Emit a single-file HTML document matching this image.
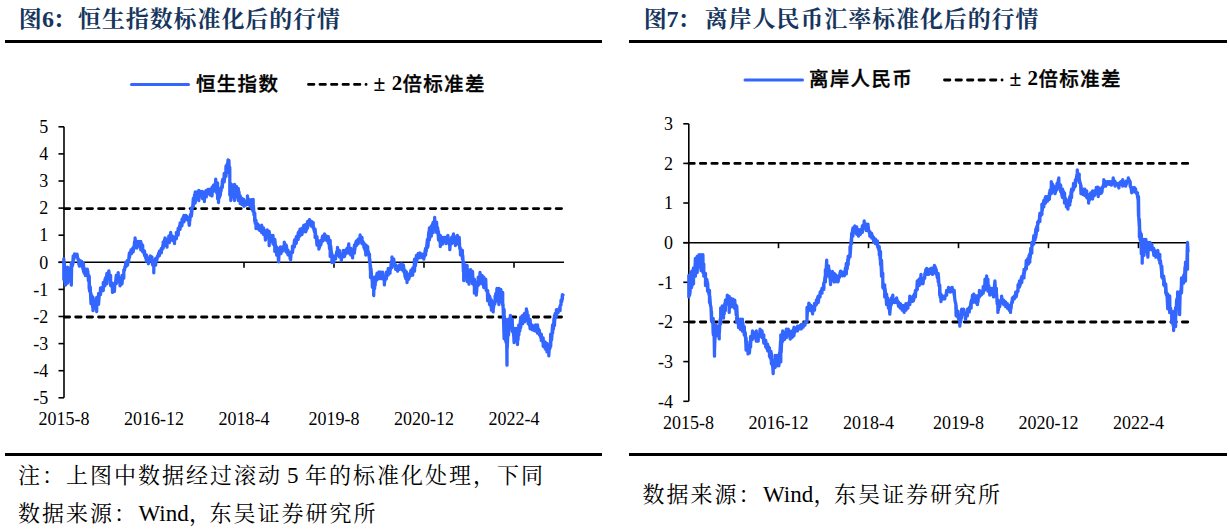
<!DOCTYPE html>
<html><head><meta charset="utf-8">
<style>
html,body{margin:0;padding:0;background:#fff;}
body{width:1229px;height:531px;overflow:hidden;position:relative;}
svg{position:absolute;left:0;top:0;}
.ax{stroke:#000;stroke-width:1.6;fill:none;}
.dash{stroke:#000;stroke-width:2.8;stroke-dasharray:5.4 6.1;stroke-linecap:round;fill:none;}
.ldash{stroke-width:2.8;stroke-dasharray:5.4 6.1;}
.ser{stroke:#3366ff;stroke-width:3.3;fill:none;stroke-linejoin:round;stroke-linecap:round;}
.yl{font-family:"Liberation Serif",serif;font-size:18px;text-anchor:end;fill:#000;}
.xl{font-family:"Liberation Serif",serif;font-size:18px;text-anchor:middle;fill:#000;}
.ttl{font-family:"Noto Serif CJK SC",serif;font-weight:700;font-size:23px;fill:#17365d;}
.tnum{font-family:"Liberation Serif",serif;font-weight:700;}
.lg{font-family:"Liberation Sans","Noto Sans CJK SC",sans-serif;font-weight:500;stroke:#000;stroke-width:0.35px;font-size:19.5px;letter-spacing:1.3px;fill:#000;}
.lgl{stroke:none;letter-spacing:0;font-size:21px;font-family:"Liberation Serif",serif;font-weight:700;}
.pm2{stroke:none;font-family:"Liberation Serif",serif;font-weight:700;font-size:21.5px;letter-spacing:0;}
.nt{font-family:"Liberation Serif","Noto Serif CJK SC",serif;font-size:22px;fill:#000;}
.lat{font-size:23px;}
.tnum{font-size:24px;}
.rule{fill:#000;}
</style></head><body>
<svg width="1229" height="531" viewBox="0 0 1229 531">
<rect class="rule" x="5" y="40" width="597" height="3"/>
<rect class="rule" x="629" y="40" width="598" height="3"/>
<rect class="rule" x="5" y="453" width="597" height="3"/>
<rect class="rule" x="629" y="453" width="598" height="3"/>
<text class="ttl" y="26.5"><tspan x="18.7">图</tspan><tspan class="tnum" x="42">6</tspan></text><text class="ttl" x="52.8" y="27.2">：</text><text class="ttl" y="26.5"><tspan x="78" letter-spacing="0.9">恒生指数标准化后的行情</tspan></text>
<text class="ttl" y="26.5"><tspan x="643.7">图</tspan><tspan class="tnum" x="666.5">7</tspan></text><text class="ttl" x="677.6" y="27.2">：</text><text class="ttl" y="26.5"><tspan x="704.8" letter-spacing="0.9">离岸人民币汇率标准化后的行情</tspan></text>
<line x1="131.5" y1="84.5" x2="188.5" y2="84.5" stroke="#3366ff" stroke-width="3" stroke-linecap="round"/>
<text class="lg" x="196" y="91">恒生指数</text>
<line x1="308.5" y1="84.4" x2="366.1" y2="84.4" class="dash ldash"/>
<text class="lg pm2" transform="translate(373.6 91) scale(1 1.12)">±</text><text class="lg lgl" x="391.8" y="89.8">2</text><text class="lg" x="402.5" y="91">倍标准差</text>
<line x1="745" y1="80" x2="802.5" y2="80" stroke="#3366ff" stroke-width="3" stroke-linecap="round"/>
<text class="lg" x="809" y="86.3">离岸人民币</text>
<line x1="944.5" y1="80" x2="1002.1" y2="80" class="dash ldash"/>
<text class="lg pm2" transform="translate(1009.6 86.3) scale(1 1.12)">±</text><text class="lg lgl" x="1027.5" y="85.1">2</text><text class="lg" x="1038.5" y="86.3">倍标准差</text>
<line x1="64" y1="126.8" x2="64" y2="397.8" class="ax"/>
<line x1="58.5" y1="397.8" x2="64" y2="397.8" class="ax"/>
<text x="48.2" y="404.0" class="yl">-5</text>
<line x1="58.5" y1="370.7" x2="64" y2="370.7" class="ax"/>
<text x="48.2" y="376.9" class="yl">-4</text>
<line x1="58.5" y1="343.6" x2="64" y2="343.6" class="ax"/>
<text x="48.2" y="349.8" class="yl">-3</text>
<line x1="58.5" y1="316.5" x2="64" y2="316.5" class="ax"/>
<text x="48.2" y="322.7" class="yl">-2</text>
<line x1="58.5" y1="289.4" x2="64" y2="289.4" class="ax"/>
<text x="48.2" y="295.6" class="yl">-1</text>
<line x1="58.5" y1="262.3" x2="64" y2="262.3" class="ax"/>
<text x="48.2" y="268.5" class="yl">0</text>
<line x1="58.5" y1="235.2" x2="64" y2="235.2" class="ax"/>
<text x="48.2" y="241.4" class="yl">1</text>
<line x1="58.5" y1="208.1" x2="64" y2="208.1" class="ax"/>
<text x="48.2" y="214.3" class="yl">2</text>
<line x1="58.5" y1="181.0" x2="64" y2="181.0" class="ax"/>
<text x="48.2" y="187.2" class="yl">3</text>
<line x1="58.5" y1="153.9" x2="64" y2="153.9" class="ax"/>
<text x="48.2" y="160.1" class="yl">4</text>
<line x1="58.5" y1="126.8" x2="64" y2="126.8" class="ax"/>
<text x="48.2" y="133.0" class="yl">5</text>
<line x1="58.5" y1="262.3" x2="564" y2="262.3" class="ax"/>
<line x1="154" y1="262.3" x2="154" y2="267.8" class="ax"/>
<line x1="244" y1="262.3" x2="244" y2="267.8" class="ax"/>
<line x1="334" y1="262.3" x2="334" y2="267.8" class="ax"/>
<line x1="424" y1="262.3" x2="424" y2="267.8" class="ax"/>
<line x1="514" y1="262.3" x2="514" y2="267.8" class="ax"/>
<text x="64" y="425" class="xl">2015-8</text>
<text x="154" y="425" class="xl">2016-12</text>
<text x="244" y="425" class="xl">2018-4</text>
<text x="334" y="425" class="xl">2019-8</text>
<text x="424" y="425" class="xl">2020-12</text>
<text x="514" y="425" class="xl">2022-4</text>
<line x1="64.25" y1="208.6" x2="563" y2="208.6" class="dash" style="stroke-dasharray:5.4 6.04"/>
<line x1="64.25" y1="317.0" x2="563" y2="317.0" class="dash" style="stroke-dasharray:5.4 6.04"/>
<path d="M63.8 279.4 L63.8 258.8 L63.8 275.3 L64.4 263.0 L65.0 282.5 L65.6 273.3 L65.6 285.1 L65.6 269.1 L66.2 280.4 L66.8 270.1 L67.4 272.9 L67.5 267.2 L67.5 283.2 L68.0 269.1 L68.6 281.0 L69.2 276.8 L69.4 281.2 L69.4 272.8 L69.8 277.8 L70.4 267.7 L71.0 279.4 L71.3 263.4 L71.3 285.1 L71.6 267.5 L72.2 266.0 L72.8 264.2 L73.2 255.9 L73.2 262.6 L73.4 256.8 L74.0 258.7 L74.6 254.0 L75.0 254.1 L75.0 256.6 L75.2 254.9 L75.8 255.5 L76.4 254.7 L77.0 254.8 L77.0 256.6 L77.0 254.1 L77.6 257.8 L78.2 259.7 L78.8 260.2 L78.8 264.4 L78.8 259.4 L79.4 266.1 L80.0 261.0 L80.6 260.9 L81.2 263.4 L81.7 266.2 L81.7 261.4 L81.8 265.7 L82.4 265.5 L83.0 269.3 L83.5 263.4 L83.5 271.6 L83.6 266.1 L84.2 273.0 L84.8 269.7 L85.4 273.6 L85.4 269.1 L85.4 275.6 L86.0 269.3 L86.6 271.3 L87.2 271.4 L87.3 269.1 L87.3 271.9 L87.8 271.3 L88.4 280.7 L89.0 275.7 L89.2 288.6 L89.2 276.4 L89.6 291.2 L90.2 286.9 L90.8 299.6 L91.0 303.6 L91.0 293.4 L91.4 298.6 L92.0 296.0 L92.6 307.2 L93.0 297.4 L93.0 310.6 L93.2 298.0 L93.8 308.3 L94.4 302.8 L94.8 301.1 L94.8 307.6 L95.0 303.8 L95.6 308.3 L96.2 304.1 L96.7 311.6 L96.7 297.4 L96.8 304.4 L97.4 302.5 L98.0 296.3 L98.6 304.3 L98.6 293.4 L98.6 303.6 L99.2 295.5 L99.8 293.4 L100.4 293.5 L100.5 287.9 L100.5 294.6 L101.0 287.8 L101.6 289.1 L102.2 287.6 L102.8 288.2 L103.3 290.6 L103.3 282.4 L103.4 286.7 L104.0 284.7 L104.6 284.0 L105.0 285.8 L105.0 279.2 L105.2 281.6 L105.8 277.4 L106.4 279.4 L106.9 273.4 L106.9 283.6 L107.0 279.1 L107.6 278.2 L108.2 275.8 L108.8 273.3 L108.8 276.6 L108.8 270.8 L109.4 276.0 L110.0 275.4 L110.6 284.0 L110.6 275.4 L110.6 285.6 L111.2 283.2 L111.8 286.5 L112.4 287.8 L112.5 292.4 L112.5 283.1 L113.0 290.6 L113.6 284.1 L114.2 289.6 L114.4 284.8 L114.4 291.4 L114.8 284.2 L115.4 283.8 L116.0 278.1 L116.3 275.4 L116.3 283.6 L116.6 277.5 L117.2 278.9 L117.8 279.5 L118.2 272.6 L118.2 281.9 L118.4 275.8 L119.0 279.1 L119.6 280.9 L120.0 279.2 L120.0 285.8 L120.2 282.7 L120.8 284.5 L121.4 277.7 L122.0 279.9 L122.0 275.4 L122.0 283.9 L122.6 277.2 L123.2 275.7 L123.8 274.7 L123.8 278.2 L123.8 269.8 L124.4 270.4 L125.0 266.6 L125.6 267.0 L125.7 262.2 L125.7 266.9 L126.2 261.8 L126.8 265.8 L127.4 262.1 L127.6 260.4 L127.6 265.1 L128.0 261.0 L128.6 262.0 L129.2 254.4 L129.5 252.9 L129.5 257.6 L129.8 254.7 L130.4 253.7 L131.0 250.0 L131.4 253.7 L131.4 251.0 L131.6 253.4 L132.2 251.0 L132.8 248.2 L133.2 251.8 L133.2 247.3 L133.4 250.2 L134.0 248.5 L134.6 241.4 L135.1 246.2 L135.1 237.9 L135.2 246.1 L135.8 240.6 L136.4 245.3 L137.0 241.5 L137.0 248.0 L137.0 241.5 L137.6 244.8 L138.2 243.0 L138.8 243.9 L138.9 241.5 L138.9 246.2 L139.4 244.3 L140.0 245.5 L140.6 245.5 L140.8 249.9 L140.8 241.5 L141.2 248.4 L141.8 244.1 L142.4 250.5 L142.7 245.5 L142.7 251.8 L143.0 249.4 L143.6 252.8 L144.2 251.4 L144.5 255.5 L144.5 251.0 L144.8 255.7 L145.4 256.4 L146.0 258.9 L146.4 254.8 L146.4 261.2 L146.6 256.6 L147.2 261.4 L147.8 258.3 L148.3 263.2 L148.3 258.4 L148.4 263.8 L149.0 259.1 L149.6 258.3 L150.2 256.8 L150.2 255.8 L150.2 260.1 L150.8 256.5 L151.4 260.9 L151.9 261.4 L151.9 256.8 L152.0 260.1 L152.6 265.0 L153.2 264.2 L153.8 264.8 L153.8 272.8 L153.8 260.4 L154.4 265.9 L155.0 259.8 L155.6 261.8 L155.6 258.4 L155.6 265.2 L156.2 259.6 L156.8 260.3 L157.4 256.6 L157.5 257.6 L157.5 255.9 L158.0 257.0 L158.6 253.3 L159.2 255.4 L159.4 255.7 L159.4 251.2 L159.8 253.8 L160.4 251.6 L161.0 251.6 L161.3 248.4 L161.3 252.9 L161.6 248.1 L162.2 249.4 L162.8 245.6 L163.2 248.2 L163.2 241.8 L163.4 246.8 L164.0 242.1 L164.6 239.8 L165.1 238.0 L165.1 245.4 L165.2 238.2 L165.8 243.3 L166.4 245.9 L167.0 243.7 L167.0 247.2 L167.0 241.8 L167.6 242.3 L168.2 242.2 L168.8 237.0 L168.8 242.5 L168.8 236.1 L169.4 242.5 L170.0 234.8 L170.6 237.8 L170.7 232.3 L170.7 238.8 L171.2 236.0 L171.8 236.8 L172.4 239.6 L172.6 236.1 L172.6 240.5 L173.0 239.3 L173.6 240.8 L174.2 238.0 L174.5 243.5 L174.5 238.0 L174.8 239.6 L175.4 237.1 L176.0 236.2 L176.4 238.8 L176.4 232.3 L176.6 235.9 L177.2 235.0 L177.8 232.2 L178.2 228.5 L178.2 235.0 L178.4 230.4 L179.0 229.0 L179.6 225.7 L180.1 229.3 L180.1 222.9 L180.2 225.3 L180.8 222.7 L181.4 226.1 L182.0 222.6 L182.0 225.5 L182.0 219.2 L182.6 220.9 L183.2 217.3 L183.8 220.7 L183.9 215.4 L183.9 221.8 L184.4 216.3 L185.0 217.8 L185.6 218.6 L185.8 215.4 L185.8 219.9 L186.2 215.9 L186.8 216.6 L187.4 218.4 L187.7 217.3 L187.7 219.9 L188.0 217.8 L188.6 219.4 L189.2 225.3 L189.5 224.6 L189.5 217.3 L189.8 221.2 L190.4 214.6 L191.0 214.0 L191.4 216.2 L191.4 207.9 L191.6 214.7 L192.2 207.3 L192.8 206.0 L193.3 198.5 L193.3 206.7 L193.4 199.2 L194.0 200.2 L194.6 194.8 L195.2 198.4 L195.2 192.0 L195.2 203.0 L195.8 195.0 L196.4 199.1 L197.0 193.1 L197.1 191.9 L197.1 198.5 L197.6 194.4 L198.2 198.6 L198.8 196.3 L198.8 190.5 L198.8 200.5 L199.4 193.2 L200.0 196.0 L200.6 195.6 L200.6 191.5 L200.6 195.0 L201.2 193.4 L201.8 194.0 L202.4 194.3 L202.5 198.5 L202.5 191.5 L203.0 198.3 L203.6 198.8 L204.2 193.2 L204.4 201.5 L204.4 192.3 L204.8 197.1 L205.4 193.2 L206.0 190.7 L206.3 196.9 L206.3 190.5 L206.6 193.1 L207.2 193.1 L207.8 193.5 L208.2 189.5 L208.2 193.1 L208.4 189.5 L209.0 193.0 L209.6 189.5 L210.0 195.0 L210.0 189.5 L210.2 191.8 L210.8 194.6 L211.4 191.9 L212.0 189.9 L212.0 187.5 L212.0 195.9 L212.6 187.5 L213.2 185.8 L213.8 187.2 L213.8 191.2 L213.8 184.8 L214.4 185.9 L215.0 184.7 L215.6 182.2 L215.7 179.2 L215.7 185.5 L216.2 184.0 L216.8 193.2 L217.4 191.7 L217.6 182.9 L217.6 198.8 L218.0 189.6 L218.5 194.2 L218.5 202.5 L218.6 198.6 L219.2 197.8 L219.8 196.6 L220.4 191.7 L220.4 195.0 L220.4 188.5 L221.0 191.4 L221.6 186.8 L222.2 185.0 L222.3 181.0 L222.3 187.5 L222.8 179.1 L223.4 179.8 L224.0 181.1 L224.2 173.5 L224.2 181.8 L224.6 174.4 L225.2 177.4 L225.8 170.9 L226.0 166.0 L226.0 176.2 L226.4 168.7 L227.0 164.6 L227.6 166.1 L228.0 160.0 L228.0 168.5 L228.2 161.4 L228.8 164.3 L228.9 172.5 L228.9 160.3 L229.4 172.7 L229.8 167.5 L229.8 195.0 L230.0 183.3 L230.6 183.7 L230.8 186.5 L230.8 200.5 L231.2 192.4 L231.8 193.9 L232.4 189.5 L232.7 184.8 L232.7 191.2 L233.0 186.5 L233.6 194.1 L234.2 198.1 L234.5 184.5 L234.5 200.5 L234.8 186.8 L235.4 197.2 L236.0 190.6 L236.4 196.9 L236.4 186.5 L236.6 195.2 L237.2 189.4 L237.8 191.8 L238.3 200.5 L238.3 188.5 L238.4 197.9 L239.0 191.8 L239.6 200.4 L240.2 200.3 L240.2 203.5 L240.2 196.0 L240.8 202.4 L241.4 200.3 L242.0 201.1 L242.0 204.5 L242.0 198.5 L242.6 201.8 L243.2 204.2 L243.8 199.5 L244.0 206.3 L244.0 200.5 L244.4 203.1 L245.0 202.1 L245.6 204.6 L245.6 205.2 L245.6 201.5 L246.2 204.6 L246.8 200.8 L247.4 200.9 L247.5 204.3 L247.5 196.0 L248.0 204.3 L248.6 201.8 L249.2 199.8 L249.4 205.2 L249.4 199.7 L249.8 204.3 L250.4 205.9 L251.0 202.1 L251.3 208.0 L251.3 199.7 L251.6 207.3 L252.2 209.5 L252.8 210.6 L253.2 199.5 L253.2 211.5 L253.4 205.4 L254.0 214.9 L254.6 214.2 L254.7 221.2 L254.7 212.9 L255.2 223.3 L255.8 220.4 L256.0 220.5 L256.0 228.5 L256.4 223.2 L257.0 228.2 L257.6 223.8 L257.9 228.5 L257.9 224.2 L258.2 228.8 L258.8 227.0 L259.4 230.1 L259.8 226.1 L259.8 230.6 L260.0 228.7 L260.6 229.1 L261.2 226.2 L261.7 232.5 L261.7 225.2 L261.8 228.4 L262.4 229.6 L263.0 232.5 L263.5 228.0 L263.5 234.4 L263.6 231.7 L264.2 229.9 L264.8 231.3 L265.4 239.3 L265.4 231.5 L265.4 240.1 L266.0 235.1 L266.6 231.1 L267.2 233.2 L267.3 229.9 L267.3 234.4 L267.8 234.0 L268.4 235.6 L269.0 239.5 L269.2 245.7 L269.2 231.5 L269.6 242.6 L270.2 235.6 L270.8 240.2 L271.0 235.5 L271.0 240.1 L271.4 238.1 L272.0 238.1 L272.6 236.3 L273.0 243.8 L273.0 235.5 L273.2 241.4 L273.8 242.6 L274.4 245.8 L274.8 239.3 L274.8 251.4 L275.0 240.8 L275.6 249.3 L276.2 248.3 L276.7 255.2 L276.7 246.8 L276.8 250.6 L277.4 248.0 L278.0 253.5 L278.6 261.7 L278.6 248.7 L278.6 261.8 L279.2 250.4 L279.8 251.4 L280.4 249.3 L280.5 253.2 L280.5 246.8 L281.0 253.6 L281.6 248.6 L282.2 251.1 L282.4 246.8 L282.4 251.4 L282.8 247.8 L283.4 249.3 L284.0 246.6 L284.3 249.5 L284.3 242.1 L284.6 249.9 L285.2 245.5 L285.8 250.7 L286.1 244.9 L286.1 252.0 L286.4 245.8 L287.0 250.9 L287.6 249.9 L288.0 254.8 L288.0 250.2 L288.2 252.9 L288.8 253.2 L289.4 255.5 L290.0 255.4 L290.0 258.4 L290.0 253.0 L290.6 258.5 L290.6 253.5 L290.6 259.8 L291.2 252.0 L291.8 252.5 L292.4 251.1 L292.5 246.1 L292.5 252.5 L293.0 247.9 L293.6 247.1 L294.2 243.5 L294.4 240.5 L294.4 246.9 L294.8 239.6 L295.4 239.8 L296.0 243.6 L296.3 236.7 L296.3 243.1 L296.6 238.8 L297.2 239.0 L297.8 237.0 L298.2 232.9 L298.2 239.3 L298.4 235.8 L299.0 231.6 L299.6 236.3 L300.0 235.5 L300.0 229.2 L300.2 233.0 L300.8 229.9 L301.4 232.0 L302.0 228.9 L302.0 234.6 L302.0 228.2 L302.6 230.9 L303.2 230.0 L303.8 225.4 L303.8 231.8 L303.8 226.6 L304.4 228.7 L305.0 227.1 L305.6 224.9 L305.7 231.8 L305.7 224.5 L306.2 230.8 L306.8 226.8 L307.4 225.0 L307.6 228.0 L307.6 221.5 L308.0 225.8 L308.6 223.4 L309.2 222.3 L309.5 219.7 L309.5 223.3 L309.8 221.4 L310.4 222.3 L311.0 224.7 L311.4 221.5 L311.4 226.2 L311.6 224.2 L312.2 222.0 L312.8 224.7 L313.2 222.5 L313.2 228.0 L313.4 226.3 L314.0 229.9 L314.6 232.1 L315.1 229.2 L315.1 237.5 L315.2 230.3 L315.8 236.6 L316.4 238.2 L317.0 245.0 L317.0 236.7 L317.0 242.7 L317.6 239.9 L318.2 244.5 L318.8 244.5 L318.9 249.1 L318.9 244.2 L319.4 247.6 L320.0 244.8 L320.6 242.8 L320.8 240.5 L320.8 245.0 L321.2 242.3 L321.8 241.7 L322.4 236.8 L322.7 241.2 L322.7 235.8 L323.0 240.8 L323.6 238.0 L324.2 235.7 L324.5 239.3 L324.5 233.9 L324.8 238.2 L325.4 238.5 L326.0 236.6 L326.4 240.3 L326.4 235.8 L326.6 238.1 L327.2 238.9 L327.8 240.8 L328.3 236.7 L328.3 243.1 L328.4 237.3 L329.0 242.3 L329.6 248.9 L330.2 240.5 L330.2 256.4 L330.2 244.4 L330.8 246.7 L331.4 252.6 L331.9 254.2 L331.9 262.6 L332.0 254.4 L332.6 258.9 L333.2 255.9 L333.8 262.6 L333.8 256.1 L333.8 259.8 L334.4 258.7 L335.0 257.8 L335.6 256.1 L335.6 258.9 L335.6 256.7 L336.2 255.1 L336.8 251.6 L337.4 253.4 L337.5 247.5 L337.5 255.0 L338.0 249.8 L338.6 253.1 L339.2 251.0 L339.4 256.9 L339.4 250.5 L339.8 256.9 L340.4 255.7 L341.0 255.7 L341.3 254.2 L341.3 260.6 L341.6 254.9 L342.2 255.6 L342.8 255.6 L343.2 256.9 L343.2 250.5 L343.4 255.4 L344.0 251.7 L344.6 256.5 L345.0 250.5 L345.0 255.0 L345.2 250.9 L345.8 253.1 L346.4 250.1 L347.0 248.5 L347.0 253.1 L347.0 248.6 L347.6 249.8 L348.2 247.8 L348.8 243.9 L348.8 253.1 L348.8 247.5 L349.4 253.0 L350.0 252.8 L350.6 251.7 L350.7 255.0 L350.7 248.5 L351.2 253.5 L351.8 253.9 L352.4 252.5 L352.6 257.9 L352.6 252.3 L353.0 254.1 L353.6 253.0 L354.2 246.6 L354.5 253.1 L354.5 244.8 L354.8 249.8 L355.4 244.9 L356.0 241.8 L356.4 245.5 L356.4 241.0 L356.6 243.8 L357.2 243.7 L357.8 243.9 L358.2 239.2 L358.2 243.7 L358.4 238.8 L359.0 239.8 L359.6 240.4 L360.1 241.8 L360.1 235.0 L360.2 241.8 L360.8 237.2 L361.4 241.3 L362.0 243.7 L362.0 237.3 L362.0 242.9 L362.6 241.0 L363.2 243.5 L363.8 243.3 L363.9 242.9 L363.9 247.5 L364.4 245.8 L365.0 250.4 L365.6 248.2 L365.8 255.0 L365.8 244.8 L366.2 250.5 L366.8 246.0 L367.4 252.6 L367.7 246.7 L367.7 253.1 L368.0 250.6 L368.6 253.1 L369.2 257.6 L369.5 254.2 L369.5 262.6 L369.8 258.8 L370.4 270.7 L370.5 265.4 L370.5 277.6 L371.0 268.7 L371.6 276.3 L372.2 280.5 L372.4 287.1 L372.4 276.8 L372.8 287.6 L373.4 284.4 L373.7 282.4 L373.7 295.6 L374.0 281.7 L374.6 288.6 L375.2 276.8 L375.2 285.2 L375.2 281.4 L375.8 281.6 L376.4 277.4 L377.0 273.6 L377.1 279.6 L377.1 273.1 L377.6 279.2 L378.2 272.9 L378.8 275.2 L379.0 271.9 L379.0 278.6 L379.4 274.7 L380.0 278.6 L380.6 272.2 L380.6 276.9 L380.6 274.7 L381.2 275.6 L381.8 275.6 L382.4 274.5 L382.5 278.9 L382.5 272.2 L383.0 276.9 L383.6 277.9 L384.2 277.1 L384.4 284.9 L384.4 276.1 L384.8 281.4 L385.4 277.7 L386.0 277.2 L386.3 272.2 L386.3 278.9 L386.6 274.8 L387.2 272.7 L387.8 272.0 L388.2 275.1 L388.2 268.4 L388.4 273.6 L389.0 271.3 L389.6 269.8 L390.0 273.2 L390.0 268.4 L390.2 270.4 L390.8 267.5 L391.4 261.7 L392.0 267.6 L392.0 256.9 L392.0 262.3 L392.6 262.2 L393.2 261.1 L393.8 259.1 L393.8 265.6 L393.8 262.2 L394.4 262.1 L395.0 265.4 L395.6 266.5 L395.7 264.8 L395.7 269.4 L396.2 267.1 L396.8 269.7 L397.4 269.7 L397.6 271.2 L397.6 266.4 L398.0 268.6 L398.6 268.1 L399.2 268.3 L399.5 264.8 L399.5 269.4 L399.8 265.2 L400.4 268.3 L401.0 265.7 L401.4 269.4 L401.4 263.8 L401.6 266.3 L402.2 267.0 L402.8 269.1 L403.2 266.4 L403.2 271.2 L403.4 264.9 L404.0 269.7 L404.6 272.6 L405.1 276.9 L405.1 270.4 L405.2 274.2 L405.8 278.7 L406.4 272.0 L407.0 274.1 L407.0 282.6 L407.0 276.5 L407.6 274.4 L408.2 279.8 L408.8 275.8 L408.9 274.1 L408.9 278.9 L409.4 275.1 L410.0 276.2 L410.6 275.7 L410.8 270.4 L410.8 275.1 L411.2 272.7 L411.8 269.6 L412.4 272.6 L412.7 268.4 L412.7 275.1 L413.0 267.6 L413.6 267.6 L414.2 266.8 L414.5 259.1 L414.5 271.2 L414.8 260.3 L415.4 265.8 L416.0 257.7 L416.4 261.9 L416.4 255.5 L416.6 261.3 L417.2 257.8 L417.8 254.4 L418.3 258.1 L418.3 253.5 L418.4 255.4 L419.0 254.4 L419.6 254.2 L420.0 256.6 L420.0 253.0 L420.2 257.7 L420.8 253.7 L421.4 256.1 L421.9 254.2 L421.9 256.9 L422.0 255.7 L422.6 256.9 L423.2 258.2 L423.8 256.1 L423.8 259.2 L423.8 257.7 L424.4 256.6 L425.0 251.6 L425.6 248.5 L425.6 255.0 L425.6 252.4 L426.2 251.4 L426.8 245.9 L427.4 239.7 L427.5 247.5 L427.5 239.2 L428.0 246.5 L428.6 233.8 L429.2 230.6 L429.4 239.9 L429.4 227.9 L429.8 237.9 L430.4 228.2 L431.0 233.0 L431.3 226.0 L431.3 236.2 L431.6 226.6 L432.2 229.5 L432.8 223.4 L433.2 232.5 L433.2 222.2 L433.4 228.9 L434.0 224.1 L434.6 225.4 L434.7 217.5 L434.7 224.9 L435.2 223.0 L435.8 224.8 L436.4 223.9 L436.6 232.5 L436.6 222.2 L437.0 231.0 L437.6 227.7 L438.2 234.6 L438.5 239.9 L438.5 231.5 L438.8 239.0 L439.4 238.6 L440.0 242.2 L440.3 235.5 L440.3 246.5 L440.6 235.9 L441.2 244.2 L441.8 239.9 L442.2 243.7 L442.2 237.3 L442.4 244.2 L443.0 239.0 L443.6 239.7 L444.1 237.3 L444.1 241.8 L444.2 237.6 L444.8 241.7 L445.4 237.7 L446.0 237.3 L446.0 243.7 L446.0 237.8 L446.6 242.5 L447.2 241.0 L447.8 239.9 L447.9 241.8 L447.9 235.5 L448.4 240.9 L449.0 241.1 L449.6 245.4 L449.8 242.9 L449.8 249.7 L450.2 243.8 L450.8 243.5 L451.4 241.9 L451.6 237.3 L451.6 243.7 L452.0 236.8 L452.6 242.7 L453.2 238.5 L453.5 233.9 L453.5 241.8 L453.8 238.4 L454.4 236.5 L455.0 242.0 L455.4 239.2 L455.4 245.5 L455.6 242.4 L456.2 242.5 L456.8 242.9 L457.3 235.5 L457.3 243.7 L457.4 236.1 L458.0 238.7 L458.6 242.3 L459.2 237.3 L459.2 245.5 L459.2 237.9 L459.8 248.6 L460.4 249.8 L460.5 255.0 L460.5 248.5 L461.0 253.6 L461.6 252.9 L462.2 255.4 L462.4 250.5 L462.4 258.9 L462.8 255.6 L463.4 271.8 L463.7 261.8 L463.7 280.6 L464.0 266.1 L464.6 273.3 L465.2 264.9 L465.2 276.6 L465.2 271.8 L465.8 266.3 L466.4 269.1 L467.0 277.1 L467.1 265.4 L467.1 281.6 L467.6 269.5 L468.2 281.9 L468.8 277.0 L469.0 273.1 L469.0 284.2 L469.4 277.2 L470.0 275.5 L470.6 269.6 L470.6 276.2 L470.6 272.8 L471.2 270.9 L471.8 276.3 L472.4 278.3 L472.5 283.8 L472.5 271.4 L473.0 280.2 L473.6 278.9 L474.2 286.2 L474.4 279.1 L474.4 293.2 L474.8 284.7 L475.4 288.5 L476.0 286.8 L476.3 295.1 L476.3 284.8 L476.6 292.7 L477.2 281.7 L477.8 283.1 L478.2 285.6 L478.2 277.2 L478.4 283.9 L479.0 284.4 L479.6 277.8 L480.0 279.9 L480.0 272.4 L480.2 275.8 L480.8 276.8 L481.4 279.7 L482.0 283.8 L482.0 275.3 L482.0 280.3 L482.6 278.0 L483.2 283.0 L483.8 287.6 L483.8 277.2 L483.8 284.5 L484.4 283.6 L485.0 283.1 L485.6 284.0 L485.7 287.6 L485.7 279.1 L486.2 290.4 L486.8 290.3 L487.4 291.8 L487.6 300.6 L487.6 290.4 L488.0 298.4 L488.6 294.4 L489.2 302.1 L489.5 296.1 L489.5 304.6 L489.8 296.9 L490.4 299.6 L491.0 307.2 L491.4 299.8 L491.4 310.2 L491.6 304.2 L492.2 307.5 L492.8 304.6 L493.2 311.9 L493.2 301.8 L493.4 308.5 L494.0 303.3 L494.6 304.3 L495.1 302.6 L495.1 296.1 L495.2 299.9 L495.8 293.3 L496.4 296.7 L497.0 288.4 L497.0 300.6 L497.0 290.4 L497.6 293.1 L498.2 301.5 L498.8 297.6 L498.9 304.6 L498.9 288.4 L499.4 302.7 L500.0 298.8 L500.6 297.4 L500.8 298.6 L500.8 289.4 L501.2 297.1 L501.8 293.6 L502.4 302.1 L502.7 292.4 L502.7 305.6 L503.0 304.0 L503.6 321.7 L504.1 338.6 L504.1 309.4 L504.2 333.7 L504.8 322.1 L505.4 339.4 L505.6 340.6 L505.6 319.1 L506.0 342.3 L506.6 332.5 L507.0 365.2 L507.0 330.4 L507.2 348.3 L507.8 334.9 L508.4 328.5 L508.5 319.1 L508.5 335.1 L509.0 325.2 L509.6 326.1 L510.2 321.1 L510.4 315.4 L510.4 323.8 L510.8 319.0 L511.4 327.1 L512.0 325.0 L512.2 331.2 L512.2 319.1 L512.6 331.8 L513.2 330.9 L513.8 336.3 L514.1 342.6 L514.1 328.4 L514.4 339.1 L515.0 330.9 L515.6 339.6 L516.0 328.4 L516.0 340.6 L516.2 333.8 L516.8 340.0 L517.4 332.5 L517.5 344.6 L517.5 332.2 L518.0 340.0 L518.6 328.5 L518.8 324.8 L518.8 335.1 L519.2 328.6 L519.8 330.9 L520.4 320.6 L520.7 327.6 L520.7 317.2 L521.0 322.8 L521.6 323.8 L522.2 316.4 L522.6 323.8 L522.6 315.4 L522.8 320.6 L523.4 315.6 L524.0 322.2 L524.5 313.4 L524.5 321.9 L524.6 314.1 L525.2 316.3 L525.8 313.4 L526.4 316.2 L526.4 308.8 L526.4 312.5 L527.0 311.2 L527.6 321.0 L528.2 315.4 L528.2 323.8 L528.2 319.4 L528.8 320.6 L529.4 324.7 L530.0 326.8 L530.1 328.6 L530.1 319.4 L530.6 326.8 L531.2 325.5 L531.8 329.5 L531.9 324.8 L531.9 329.4 L532.4 326.6 L533.0 329.6 L533.6 329.6 L533.8 330.4 L533.8 326.4 L534.2 328.8 L534.8 325.7 L535.4 330.4 L535.6 324.8 L535.6 331.2 L536.0 327.7 L536.6 331.2 L537.2 329.3 L537.5 333.2 L537.5 324.8 L537.8 329.3 L538.4 328.8 L539.0 332.2 L539.4 330.4 L539.4 335.1 L539.6 332.6 L540.2 334.7 L540.8 337.8 L541.3 334.1 L541.3 340.6 L541.4 335.4 L542.0 340.3 L542.6 338.6 L543.2 344.6 L543.2 337.9 L543.2 346.3 L543.8 345.5 L544.4 344.8 L545.0 341.8 L545.0 348.2 L545.0 343.4 L545.6 349.3 L546.2 345.7 L546.8 350.3 L547.0 343.4 L547.0 351.9 L547.4 344.5 L548.0 347.2 L548.6 351.1 L548.8 347.4 L548.8 355.8 L549.2 348.9 L549.8 348.8 L550.4 345.6 L550.7 334.1 L550.7 346.4 L551.0 335.2 L551.6 339.8 L552.2 331.3 L552.6 324.8 L552.6 333.2 L552.8 328.6 L553.4 329.1 L554.0 318.4 L554.5 325.6 L554.5 315.4 L554.6 322.4 L555.2 313.5 L555.8 317.6 L556.4 316.2 L556.4 309.6 L556.4 313.1 L557.0 311.8 L557.6 312.9 L558.2 309.6 L558.2 312.6 L558.2 311.1 L558.8 311.3 L559.4 308.1 L560.0 309.8 L560.1 310.6 L560.1 305.9 L560.6 304.9 L561.0 304.9 L561.0 300.2 L561.2 301.4 L561.8 301.5 L562.4 294.6 L562.4 299.2 L562.4 295.5 L563.0 295.0" class="ser"/>
<line x1="688.8" y1="123.8" x2="688.8" y2="401.3" class="ax"/>
<line x1="683.3" y1="401.3" x2="688.8" y2="401.3" class="ax"/>
<text x="673" y="407.5" class="yl">-4</text>
<line x1="683.3" y1="361.6" x2="688.8" y2="361.6" class="ax"/>
<text x="673" y="367.8" class="yl">-3</text>
<line x1="683.3" y1="322.0" x2="688.8" y2="322.0" class="ax"/>
<text x="673" y="328.2" class="yl">-2</text>
<line x1="683.3" y1="282.3" x2="688.8" y2="282.3" class="ax"/>
<text x="673" y="288.5" class="yl">-1</text>
<line x1="683.3" y1="242.7" x2="688.8" y2="242.7" class="ax"/>
<text x="673" y="248.9" class="yl">0</text>
<line x1="683.3" y1="203.0" x2="688.8" y2="203.0" class="ax"/>
<text x="673" y="209.2" class="yl">1</text>
<line x1="683.3" y1="163.4" x2="688.8" y2="163.4" class="ax"/>
<text x="673" y="169.6" class="yl">2</text>
<line x1="683.3" y1="123.8" x2="688.8" y2="123.8" class="ax"/>
<text x="673" y="129.9" class="yl">3</text>
<line x1="683.3" y1="242.7" x2="1188" y2="242.7" class="ax"/>
<line x1="778.5" y1="242.7" x2="778.5" y2="248.2" class="ax"/>
<line x1="868.5" y1="242.7" x2="868.5" y2="248.2" class="ax"/>
<line x1="958.5" y1="242.7" x2="958.5" y2="248.2" class="ax"/>
<line x1="1048.5" y1="242.7" x2="1048.5" y2="248.2" class="ax"/>
<line x1="1138.5" y1="242.7" x2="1138.5" y2="248.2" class="ax"/>
<text x="688.5" y="428.5" class="xl">2015-8</text>
<text x="778.5" y="428.5" class="xl">2016-12</text>
<text x="868.5" y="428.5" class="xl">2018-4</text>
<text x="958.5" y="428.5" class="xl">2019-8</text>
<text x="1048.5" y="428.5" class="xl">2020-12</text>
<text x="1138.5" y="428.5" class="xl">2022-4</text>
<line x1="688.9" y1="163.4" x2="1188" y2="163.4" class="dash" style="stroke-dasharray:5.4 6.076"/>
<line x1="688.9" y1="322.0" x2="1188" y2="322.0" class="dash" style="stroke-dasharray:5.4 6.076"/>
<path d="M688.8 296.9 L688.8 275.4 L688.8 292.5 L689.4 279.9 L689.7 295.1 L689.7 279.1 L690.0 293.1 L690.6 281.1 L691.2 283.7 L691.6 271.4 L691.6 287.6 L691.8 272.8 L692.4 284.9 L693.0 269.7 L693.5 283.8 L693.5 267.8 L693.6 278.7 L694.2 270.1 L694.8 272.5 L695.4 258.4 L695.4 276.2 L695.4 259.2 L696.0 263.5 L696.6 258.3 L697.2 272.6 L697.2 256.4 L697.2 271.6 L697.8 257.4 L698.4 262.6 L699.0 266.6 L699.1 254.7 L699.1 266.8 L699.6 254.8 L700.2 266.4 L700.8 262.9 L701.0 254.7 L701.0 270.6 L701.4 260.2 L702.0 256.4 L702.6 264.1 L702.9 272.4 L702.9 254.7 L703.2 272.5 L703.8 264.1 L703.8 276.2 L703.8 271.0 L704.4 275.1 L705.0 276.5 L705.5 273.4 L705.5 285.6 L705.6 278.7 L706.2 284.5 L706.8 279.3 L707.4 282.9 L707.6 291.2 L707.6 282.8 L708.0 289.8 L708.6 292.3 L709.2 295.2 L709.5 290.4 L709.5 302.6 L709.8 296.0 L710.4 305.0 L711.0 307.3 L711.5 320.6 L711.5 311.4 L711.6 319.1 L712.2 320.2 L712.8 321.8 L713.2 333.6 L713.2 318.4 L713.4 334.9 L714.0 328.6 L714.5 356.2 L714.5 334.1 L714.6 348.7 L715.2 331.7 L715.8 336.1 L716.0 333.2 L716.0 324.8 L716.4 333.3 L717.0 327.1 L717.6 333.4 L717.9 326.6 L717.9 335.1 L718.2 332.4 L718.8 334.9 L719.2 338.9 L719.2 330.4 L719.4 332.5 L720.0 321.1 L720.6 317.4 L720.7 323.8 L720.7 307.8 L721.2 318.7 L721.8 310.1 L722.2 316.2 L722.2 305.9 L722.4 313.2 L723.0 310.1 L723.5 309.6 L723.5 318.1 L723.6 311.6 L724.2 314.0 L724.8 303.3 L725.4 310.6 L725.4 300.2 L725.4 307.8 L726.0 299.6 L726.6 304.2 L727.2 299.9 L727.3 295.1 L727.3 303.1 L727.8 299.0 L728.4 304.1 L729.0 303.3 L729.2 296.4 L729.2 312.4 L729.6 297.5 L730.2 299.5 L730.8 306.5 L731.0 298.4 L731.0 306.8 L731.4 299.7 L732.0 303.9 L732.6 300.1 L733.0 299.3 L733.0 306.8 L733.2 302.2 L733.8 303.8 L734.4 307.2 L734.8 308.6 L734.8 300.2 L735.0 306.5 L735.6 304.9 L736.2 315.0 L736.7 305.9 L736.7 321.9 L736.8 307.2 L737.4 319.0 L738.0 318.8 L738.6 327.6 L738.6 319.1 L738.6 327.5 L739.2 323.0 L739.8 326.8 L740.4 320.0 L740.5 329.4 L740.5 319.1 L741.0 324.6 L741.6 323.1 L742.2 326.8 L742.4 319.1 L742.4 331.2 L742.8 322.5 L743.4 327.8 L744.0 330.7 L744.3 335.1 L744.3 326.6 L744.6 334.7 L745.2 332.4 L745.8 342.3 L746.1 350.2 L746.1 337.9 L746.4 349.1 L747.0 341.7 L747.6 350.3 L748.0 345.4 L748.0 353.9 L748.2 350.1 L748.8 352.2 L749.3 352.6 L749.3 345.4 L749.4 353.1 L750.0 345.9 L750.6 346.9 L750.6 336.4 L750.6 344.8 L751.2 336.6 L751.8 338.1 L752.4 333.3 L752.5 339.4 L752.5 330.9 L753.0 336.4 L753.6 334.8 L754.2 333.4 L754.4 337.6 L754.4 332.8 L754.8 337.5 L755.4 336.5 L756.0 339.4 L756.3 330.9 L756.3 341.2 L756.6 336.6 L757.2 337.4 L757.8 335.4 L758.2 334.8 L758.2 341.2 L758.4 334.8 L759.0 337.0 L759.6 336.0 L760.0 329.1 L760.0 335.6 L760.2 332.3 L760.8 333.0 L761.4 330.5 L762.0 330.9 L762.0 337.6 L762.0 331.0 L762.6 336.2 L763.2 336.7 L763.8 343.2 L763.8 334.8 L763.8 338.5 L764.4 340.6 L765.0 343.8 L765.6 341.9 L765.7 346.9 L765.7 340.4 L766.2 344.1 L766.8 348.6 L767.4 345.4 L767.6 350.7 L767.6 344.1 L768.0 351.2 L768.6 346.7 L769.2 351.0 L769.5 347.9 L769.5 356.4 L769.8 353.9 L770.4 358.4 L771.0 351.4 L771.4 363.9 L771.4 353.4 L771.6 361.4 L772.2 361.5 L772.8 367.5 L773.2 373.6 L773.2 361.1 L773.4 366.4 L774.0 361.1 L774.6 359.8 L775.1 367.6 L775.1 355.4 L775.2 366.4 L775.8 359.6 L776.4 362.3 L777.0 355.4 L777.0 365.8 L777.0 356.7 L777.6 361.2 L778.2 363.0 L778.8 362.5 L778.9 361.1 L778.9 365.8 L779.4 354.2 L780.0 351.3 L780.6 341.0 L780.8 361.9 L780.8 334.8 L781.2 352.2 L781.8 338.5 L782.4 342.0 L782.7 330.9 L782.7 341.2 L783.0 332.6 L783.6 335.7 L784.2 334.8 L784.5 339.4 L784.5 332.8 L784.8 338.5 L785.4 333.4 L786.0 331.1 L786.4 329.1 L786.4 337.6 L786.6 331.4 L787.2 333.2 L787.8 334.5 L788.3 335.6 L788.3 329.1 L788.4 335.3 L789.0 330.6 L789.6 333.2 L790.2 339.1 L790.2 331.9 L790.2 337.4 L790.8 333.5 L791.4 334.4 L792.0 337.6 L792.0 330.9 L792.0 336.1 L792.6 331.4 L793.2 336.3 L793.8 327.9 L794.0 335.6 L794.0 327.2 L794.4 333.2 L795.0 330.2 L795.6 330.9 L795.6 328.1 L795.6 329.4 L796.2 329.1 L796.8 330.7 L797.4 328.2 L797.5 330.9 L797.5 326.1 L798.0 328.7 L798.6 327.0 L799.2 326.5 L799.4 328.9 L799.4 326.1 L799.8 328.2 L800.4 325.4 L801.0 327.6 L801.3 328.9 L801.3 324.3 L801.6 328.1 L802.2 325.4 L802.8 326.6 L803.2 324.3 L803.2 327.1 L803.4 324.9 L804.0 324.6 L804.6 325.5 L805.0 322.4 L805.0 325.2 L805.2 322.7 L805.8 322.7 L806.4 321.9 L807.0 321.4 L807.0 307.4 L807.0 318.2 L807.6 307.9 L808.2 310.7 L808.8 310.2 L808.8 303.2 L808.8 306.5 L809.4 303.9 L810.0 309.3 L810.6 307.8 L810.7 310.2 L810.7 305.4 L811.2 310.8 L811.8 309.6 L812.4 306.7 L812.6 313.9 L812.6 307.4 L813.0 311.3 L813.6 306.8 L814.2 307.1 L814.5 303.4 L814.5 310.2 L814.8 304.1 L815.4 305.5 L816.0 303.1 L816.4 304.6 L816.4 299.8 L816.6 302.0 L817.2 301.2 L817.8 297.1 L818.2 302.6 L818.2 296.1 L818.4 301.8 L819.0 296.5 L819.6 295.0 L820.1 296.9 L820.1 292.2 L820.2 294.8 L820.8 291.4 L821.4 291.8 L822.0 288.4 L822.0 293.2 L822.0 288.7 L822.6 288.0 L823.2 287.6 L823.8 283.4 L823.9 289.4 L823.9 282.8 L824.4 282.6 L825.0 276.9 L825.4 281.9 L825.4 269.6 L825.6 279.0 L826.2 269.4 L826.7 260.2 L826.7 270.6 L826.8 266.6 L827.4 270.3 L828.0 267.5 L828.6 276.2 L828.6 265.9 L828.6 271.7 L829.2 269.6 L829.8 276.2 L830.4 281.2 L830.5 275.4 L830.5 284.6 L831.0 278.4 L831.6 273.6 L832.2 274.9 L832.4 279.9 L832.4 271.4 L832.8 279.6 L833.4 276.7 L834.0 281.4 L834.3 281.9 L834.3 273.4 L834.6 280.1 L835.2 274.5 L835.8 280.7 L836.1 275.1 L836.1 281.7 L836.4 278.3 L837.0 279.8 L837.6 279.0 L838.0 281.8 L838.0 276.9 L838.2 281.2 L838.8 277.0 L839.4 277.5 L840.0 272.9 L840.6 271.1 L840.6 275.8 L840.6 272.1 L841.2 272.7 L841.8 273.6 L842.4 273.2 L842.5 275.8 L842.5 272.1 L843.0 275.4 L843.6 273.3 L844.2 275.4 L844.4 273.1 L844.4 275.8 L844.8 273.3 L845.4 268.1 L846.0 269.8 L846.3 263.4 L846.3 273.9 L846.6 263.7 L847.2 269.0 L847.8 259.2 L848.2 264.6 L848.2 256.1 L848.4 260.7 L849.0 256.2 L849.6 257.2 L850.0 256.9 L850.0 246.7 L850.2 255.0 L850.8 245.1 L851.4 238.0 L851.6 243.7 L851.6 233.5 L852.0 236.0 L852.6 229.6 L852.9 236.2 L852.9 227.9 L853.2 232.4 L853.8 227.6 L854.4 231.9 L854.8 232.4 L854.8 226.0 L855.0 229.5 L855.6 229.6 L856.2 229.4 L856.7 234.3 L856.7 226.9 L856.8 230.7 L857.4 231.0 L858.0 231.8 L858.5 229.7 L858.5 236.2 L858.6 230.2 L859.2 232.9 L859.8 232.2 L860.4 234.3 L860.4 229.7 L860.4 232.0 L861.0 232.8 L861.6 230.6 L862.2 229.2 L862.3 226.0 L862.3 232.4 L862.8 225.5 L863.4 228.3 L864.0 224.9 L864.2 220.9 L864.2 226.7 L864.6 224.4 L865.2 225.2 L865.8 223.9 L866.1 224.1 L866.1 230.5 L866.4 225.3 L867.0 225.5 L867.6 228.6 L868.0 224.1 L868.0 228.5 L868.2 226.5 L868.8 231.4 L869.4 232.8 L869.8 231.5 L869.8 236.2 L870.0 232.4 L870.6 235.1 L871.2 233.1 L871.7 238.0 L871.7 233.5 L871.8 237.5 L872.4 235.5 L873.0 238.2 L873.6 237.3 L873.6 241.8 L873.6 239.9 L874.2 238.4 L874.8 242.4 L875.4 242.4 L875.5 239.2 L875.5 243.7 L876.0 240.6 L876.6 242.4 L877.2 243.3 L877.4 245.5 L877.4 241.0 L877.8 247.3 L878.4 247.7 L879.0 250.6 L879.3 246.7 L879.3 255.0 L879.6 251.7 L880.2 259.6 L880.5 251.5 L880.5 264.6 L880.8 261.1 L881.4 270.9 L881.5 276.2 L881.5 260.2 L882.0 273.9 L882.6 274.2 L882.8 273.4 L882.8 287.6 L883.2 283.2 L883.8 289.1 L884.4 287.8 L884.7 284.8 L884.7 296.9 L885.0 288.3 L885.6 293.9 L886.2 298.6 L886.6 304.6 L886.6 294.1 L886.8 300.6 L887.4 297.5 L888.0 302.6 L888.5 308.2 L888.5 299.8 L888.6 306.1 L889.2 306.1 L889.8 314.2 L889.8 303.4 L889.8 313.9 L890.4 306.5 L891.0 305.1 L891.3 297.9 L891.3 304.6 L891.6 298.7 L892.2 302.2 L892.8 295.1 L892.8 302.6 L892.8 299.4 L893.4 299.3 L894.0 300.9 L894.6 299.9 L894.7 302.6 L894.7 299.8 L895.2 301.5 L895.8 301.9 L896.4 301.2 L896.6 297.9 L896.6 302.6 L897.0 299.5 L897.6 302.3 L898.2 303.7 L898.5 306.4 L898.5 301.8 L898.8 306.5 L899.4 305.4 L900.0 307.6 L900.3 303.6 L900.3 308.2 L900.6 306.6 L901.2 307.0 L901.8 307.7 L902.2 305.4 L902.2 310.2 L902.4 307.8 L903.0 308.1 L903.6 308.0 L904.1 312.4 L904.1 305.4 L904.2 310.8 L904.8 306.8 L905.4 308.5 L906.0 303.6 L906.0 310.2 L906.0 304.6 L906.6 306.6 L907.2 306.5 L907.8 305.8 L907.9 308.2 L907.9 303.6 L908.4 305.1 L909.0 302.1 L909.6 303.6 L909.8 296.1 L909.8 304.6 L910.2 300.0 L910.8 301.7 L911.4 299.7 L911.6 300.7 L911.6 297.9 L912.0 299.3 L912.6 301.4 L913.2 295.9 L913.5 300.7 L913.5 296.1 L913.8 299.4 L914.4 294.1 L915.0 296.5 L915.4 290.4 L915.4 296.9 L915.6 292.6 L916.2 290.0 L916.8 288.9 L917.3 280.9 L917.3 289.4 L917.4 281.2 L918.0 285.3 L918.6 282.2 L919.2 279.1 L919.2 285.6 L919.2 283.0 L919.8 279.0 L920.4 282.0 L921.0 274.4 L921.0 283.8 L921.0 278.3 L921.6 282.1 L922.2 278.4 L922.8 282.2 L923.0 279.1 L923.0 283.8 L923.4 279.8 L924.0 279.0 L924.6 276.6 L924.8 278.1 L924.8 273.4 L925.2 275.2 L925.8 269.7 L926.4 272.8 L926.7 268.4 L926.7 274.4 L927.0 269.2 L927.6 269.2 L928.2 271.7 L928.6 269.6 L928.6 274.4 L928.8 269.8 L929.4 271.8 L930.0 271.1 L930.6 268.8 L930.6 273.4 L930.6 271.0 L931.2 272.1 L931.8 268.2 L932.4 271.6 L932.5 269.6 L932.5 274.4 L933.0 270.9 L933.6 270.3 L934.2 271.9 L934.4 265.4 L934.4 272.6 L934.8 266.4 L935.4 267.5 L936.0 273.8 L936.3 269.6 L936.3 274.4 L936.6 273.1 L937.2 277.1 L937.8 278.5 L938.2 273.4 L938.2 281.9 L938.4 275.6 L939.0 285.6 L939.6 286.7 L939.7 295.1 L939.7 284.8 L940.2 297.3 L940.8 295.9 L941.0 301.6 L941.0 294.1 L941.4 298.5 L942.0 295.6 L942.6 299.1 L942.9 298.9 L942.9 296.1 L943.2 298.5 L943.8 297.5 L944.4 296.1 L944.8 296.1 L944.8 298.9 L945.0 296.3 L945.6 295.3 L946.2 294.2 L946.7 290.4 L946.7 295.1 L946.8 291.0 L947.4 291.6 L948.0 290.6 L948.5 291.2 L948.5 287.4 L948.6 290.9 L949.2 289.6 L949.8 288.1 L950.4 292.2 L950.4 288.4 L950.4 290.4 L951.0 289.7 L951.6 291.5 L952.2 287.5 L952.3 291.2 L952.3 288.4 L952.8 290.6 L953.4 289.9 L954.0 293.5 L954.2 295.1 L954.2 290.4 L954.6 297.5 L955.2 301.7 L955.8 303.7 L956.1 315.8 L956.1 305.4 L956.4 311.6 L957.0 313.1 L957.6 316.8 L958.0 311.1 L958.0 317.6 L958.2 314.2 L958.8 319.5 L959.4 320.3 L959.8 316.8 L959.8 326.2 L960.0 321.0 L960.6 322.4 L961.2 317.6 L961.7 309.2 L961.7 317.6 L961.8 313.8 L962.4 315.1 L963.0 310.4 L963.6 313.9 L963.6 309.2 L963.6 311.1 L964.2 313.3 L964.8 314.8 L965.4 313.6 L965.5 313.1 L965.5 319.6 L966.0 315.6 L966.6 313.9 L967.2 311.7 L967.4 309.2 L967.4 315.8 L967.8 310.0 L968.4 312.0 L969.0 309.3 L969.3 311.9 L969.3 307.4 L969.6 308.6 L970.2 307.8 L970.8 303.3 L971.1 301.4 L971.1 308.2 L971.4 300.2 L972.0 300.3 L972.5 295.1 L972.5 302.6 L972.6 298.0 L973.2 297.9 L973.8 294.1 L973.8 298.9 L973.8 294.2 L974.4 299.3 L975.0 297.5 L975.6 302.6 L975.6 296.1 L975.6 299.8 L976.2 295.9 L976.8 303.4 L977.4 301.7 L977.5 304.6 L977.5 297.9 L978.0 301.8 L978.6 295.2 L979.2 294.9 L979.4 296.9 L979.4 290.4 L979.8 295.4 L980.4 293.7 L981.0 293.6 L981.3 295.1 L981.3 292.2 L981.6 294.7 L982.2 293.7 L982.8 290.1 L983.2 293.2 L983.2 286.6 L983.4 292.1 L984.0 286.2 L984.6 290.3 L985.0 279.1 L985.0 287.6 L985.2 283.6 L985.8 285.0 L986.4 278.1 L986.6 283.8 L986.6 275.9 L987.0 284.7 L987.6 280.9 L987.9 291.2 L987.9 279.1 L988.2 290.5 L988.8 285.6 L989.4 291.7 L989.8 295.1 L989.8 288.4 L990.0 295.1 L990.6 290.1 L991.2 293.3 L991.7 288.4 L991.7 293.2 L991.8 289.2 L992.4 294.4 L993.0 293.3 L993.5 296.9 L993.5 290.4 L993.6 295.4 L994.2 289.1 L994.8 282.1 L994.9 287.6 L994.9 280.9 L995.4 289.1 L996.0 292.2 L996.4 288.4 L996.4 295.1 L996.6 294.1 L997.2 303.8 L997.8 300.6 L997.9 312.4 L997.9 299.8 L998.4 310.1 L999.0 301.3 L999.6 306.9 L999.8 303.6 L999.8 306.4 L1000.2 302.9 L1000.8 301.8 L1001.4 299.0 L1001.6 300.7 L1001.6 296.1 L1002.0 299.1 L1002.6 302.1 L1003.2 301.7 L1003.5 304.4 L1003.5 299.8 L1003.8 304.7 L1004.4 301.3 L1005.0 303.4 L1005.4 301.8 L1005.4 306.4 L1005.6 302.0 L1006.2 305.8 L1006.8 306.4 L1007.3 303.6 L1007.3 308.2 L1007.4 304.3 L1008.0 306.1 L1008.6 307.6 L1009.2 310.2 L1009.2 305.4 L1009.2 309.2 L1009.8 307.4 L1010.4 307.3 L1010.5 312.4 L1010.5 307.4 L1011.0 308.5 L1011.6 302.3 L1012.2 300.9 L1012.4 297.9 L1012.4 302.6 L1012.8 298.9 L1013.4 297.1 L1014.0 298.4 L1014.3 296.1 L1014.3 298.9 L1014.6 297.1 L1015.2 296.3 L1015.8 292.1 L1016.1 296.9 L1016.1 292.2 L1016.4 296.0 L1017.0 291.9 L1017.6 290.5 L1018.0 291.2 L1018.0 284.8 L1018.2 288.2 L1018.8 283.6 L1019.4 284.3 L1019.5 287.1 L1019.5 280.8 L1020.0 285.4 L1020.6 282.8 L1021.2 278.5 L1021.8 282.6 L1021.8 276.4 L1021.8 280.6 L1022.4 277.5 L1023.0 277.1 L1023.6 273.0 L1024.0 277.9 L1024.0 269.4 L1024.2 273.9 L1024.8 270.8 L1025.4 268.9 L1026.0 265.2 L1026.3 260.4 L1026.3 268.9 L1026.6 263.6 L1027.2 263.3 L1027.8 258.7 L1028.4 264.2 L1029.0 255.7 L1029.6 257.0 L1029.8 262.2 L1029.8 253.8 L1030.2 258.0 L1030.8 248.2 L1031.4 252.7 L1031.8 253.1 L1031.8 242.5 L1032.0 247.0 L1032.6 243.9 L1033.2 242.6 L1033.8 235.7 L1033.8 244.0 L1033.8 239.8 L1034.4 238.1 L1035.0 240.0 L1035.6 231.0 L1035.8 237.3 L1035.8 229.0 L1036.2 235.0 L1036.8 226.3 L1037.4 227.0 L1037.6 230.5 L1037.6 222.2 L1038.0 224.1 L1038.6 220.8 L1039.2 221.9 L1039.8 213.9 L1039.9 221.5 L1039.9 213.1 L1040.4 216.4 L1041.0 212.7 L1041.6 212.6 L1041.9 214.5 L1041.9 204.2 L1042.2 210.8 L1042.8 204.4 L1043.4 205.0 L1043.8 200.5 L1043.8 206.9 L1044.0 202.3 L1044.6 202.1 L1045.2 197.9 L1045.6 203.1 L1045.6 196.7 L1045.8 202.4 L1046.4 197.0 L1047.0 201.0 L1047.5 196.7 L1047.5 201.2 L1047.6 196.9 L1048.2 199.6 L1048.8 196.2 L1049.4 199.3 L1049.4 192.9 L1049.4 198.1 L1050.0 190.1 L1050.6 190.7 L1051.2 187.8 L1051.3 193.7 L1051.3 181.6 L1051.8 190.0 L1052.4 184.0 L1053.0 188.1 L1053.2 185.4 L1053.2 191.8 L1053.6 186.5 L1054.2 190.9 L1054.8 189.1 L1055.0 193.7 L1055.0 187.3 L1055.4 192.7 L1056.0 186.3 L1056.6 189.5 L1057.0 183.5 L1057.0 189.9 L1057.2 185.9 L1057.8 184.2 L1058.4 179.6 L1058.8 186.2 L1058.8 177.9 L1059.0 187.4 L1059.6 188.0 L1060.2 184.6 L1060.7 185.4 L1060.7 191.8 L1060.8 188.6 L1061.4 192.2 L1062.0 195.5 L1062.6 197.5 L1062.6 189.2 L1062.6 196.9 L1063.2 191.2 L1063.8 192.5 L1064.4 195.3 L1064.5 203.1 L1064.5 192.9 L1065.0 202.8 L1065.6 198.5 L1066.2 203.4 L1066.4 200.5 L1066.4 206.9 L1066.8 203.6 L1067.4 206.1 L1067.9 204.2 L1067.9 209.1 L1068.0 204.4 L1068.6 204.6 L1069.2 200.1 L1069.8 196.7 L1069.8 205.0 L1069.8 197.4 L1070.4 201.7 L1071.0 192.6 L1071.6 189.2 L1071.6 197.5 L1071.6 193.5 L1072.2 191.6 L1072.8 188.6 L1073.4 187.1 L1073.5 183.5 L1073.5 189.9 L1074.0 183.9 L1074.6 187.4 L1075.2 185.0 L1075.4 186.2 L1075.4 179.7 L1075.8 181.2 L1076.4 178.0 L1077.0 174.5 L1077.3 176.7 L1077.3 169.8 L1077.6 174.8 L1078.2 178.8 L1078.8 177.1 L1079.2 174.1 L1079.2 182.4 L1079.4 179.6 L1080.0 182.7 L1080.6 184.3 L1081.0 193.7 L1081.0 185.4 L1081.2 191.6 L1081.8 190.5 L1082.4 189.2 L1083.0 193.7 L1083.0 189.2 L1083.0 194.5 L1083.6 189.4 L1084.2 194.3 L1084.8 189.2 L1084.8 195.6 L1084.8 192.3 L1085.4 193.8 L1086.0 193.8 L1086.6 194.0 L1086.7 191.0 L1086.7 197.5 L1087.2 194.4 L1087.8 198.6 L1088.4 199.3 L1088.6 194.8 L1088.6 203.1 L1089.0 196.0 L1089.6 199.9 L1090.2 195.2 L1090.6 197.5 L1090.6 192.9 L1090.8 196.4 L1091.4 195.1 L1092.0 197.7 L1092.5 199.0 L1092.5 191.0 L1092.6 197.8 L1093.2 196.0 L1093.8 194.1 L1094.4 195.5 L1094.4 191.0 L1094.4 194.6 L1095.0 191.5 L1095.6 193.9 L1096.2 191.7 L1096.3 187.3 L1096.3 193.7 L1096.8 191.2 L1097.4 191.5 L1098.0 187.1 L1098.2 187.3 L1098.2 196.5 L1098.6 192.1 L1099.2 191.3 L1099.8 190.9 L1100.0 193.7 L1100.0 189.2 L1100.4 191.7 L1101.0 189.4 L1101.6 193.0 L1102.0 187.3 L1102.0 191.8 L1102.2 188.6 L1102.8 187.7 L1103.4 184.7 L1103.8 186.2 L1103.8 179.7 L1104.0 183.5 L1104.6 182.9 L1105.2 182.0 L1105.7 186.2 L1105.7 181.6 L1105.8 185.9 L1106.4 183.9 L1107.0 182.9 L1107.6 184.3 L1107.6 181.6 L1107.6 183.1 L1108.2 181.8 L1108.8 183.8 L1109.4 181.7 L1109.5 184.3 L1109.5 181.6 L1110.0 183.7 L1110.6 182.4 L1111.2 183.1 L1111.4 181.6 L1111.4 185.2 L1111.8 182.1 L1112.4 183.5 L1113.0 181.7 L1113.2 177.9 L1113.2 182.4 L1113.6 179.6 L1114.2 184.0 L1114.8 181.0 L1115.1 186.2 L1115.1 181.6 L1115.4 185.1 L1116.0 184.7 L1116.6 183.6 L1117.0 184.3 L1117.0 183.5 L1117.2 184.0 L1117.8 184.7 L1118.4 185.6 L1118.9 188.0 L1118.9 183.5 L1119.0 186.4 L1119.6 183.0 L1120.2 182.2 L1120.8 183.5 L1120.8 184.3 L1120.8 181.6 L1121.4 184.1 L1122.0 183.6 L1122.6 181.2 L1122.7 179.7 L1122.7 186.2 L1123.2 181.5 L1123.8 184.8 L1124.4 183.6 L1124.5 183.5 L1124.5 185.2 L1125.0 183.1 L1125.6 186.2 L1126.2 181.2 L1126.4 184.3 L1126.4 181.6 L1126.8 182.5 L1127.4 181.8 L1128.0 180.4 L1128.3 181.5 L1128.3 177.9 L1128.6 180.6 L1129.2 179.8 L1129.8 182.4 L1130.2 186.2 L1130.2 181.6 L1130.4 187.0 L1131.0 186.8 L1131.6 191.9 L1131.7 187.3 L1131.7 192.8 L1132.2 189.8 L1132.8 190.2 L1133.0 189.2 L1133.0 191.8 L1133.4 189.1 L1134.0 190.2 L1134.3 191.8 L1134.3 187.3 L1134.6 191.4 L1135.2 188.6 L1135.6 191.7 L1135.6 189.0 L1135.8 192.3 L1136.4 192.9 L1137.0 194.4 L1137.5 192.8 L1137.5 197.3 L1137.6 196.6 L1138.2 200.5 L1138.5 216.2 L1138.5 196.5 L1138.8 218.7 L1139.4 227.7 L1139.4 236.9 L1139.4 219.2 L1140.0 239.1 L1140.4 232.3 L1140.4 240.6 L1140.6 237.1 L1141.2 247.9 L1141.3 253.8 L1141.3 234.2 L1141.8 247.1 L1142.2 240.5 L1142.2 263.2 L1142.4 245.3 L1143.0 249.4 L1143.6 250.0 L1144.0 255.3 L1144.0 239.5 L1144.2 247.9 L1144.8 240.8 L1145.4 250.3 L1145.9 239.5 L1145.9 251.3 L1146.0 246.3 L1146.6 247.5 L1147.2 250.3 L1147.8 256.2 L1147.9 242.5 L1147.9 257.2 L1148.4 244.6 L1149.0 245.2 L1149.6 247.0 L1149.9 242.5 L1149.9 249.3 L1150.2 244.7 L1150.8 247.2 L1151.4 247.3 L1151.9 244.5 L1151.9 250.1 L1152.0 246.1 L1152.6 248.7 L1153.2 248.7 L1153.8 254.9 L1153.8 248.4 L1153.8 255.3 L1154.4 250.1 L1155.0 253.9 L1155.6 253.0 L1155.8 252.3 L1155.8 257.2 L1156.2 252.0 L1156.8 253.7 L1157.4 252.1 L1157.8 255.3 L1157.8 250.3 L1158.0 253.7 L1158.6 257.8 L1159.2 260.3 L1159.8 256.1 L1159.8 254.3 L1159.8 263.2 L1160.4 260.5 L1161.0 266.0 L1161.6 271.7 L1161.8 277.1 L1161.8 266.1 L1162.2 274.7 L1162.8 278.6 L1163.4 279.2 L1163.7 276.1 L1163.7 284.9 L1164.0 278.5 L1164.6 284.7 L1165.2 287.2 L1165.7 283.9 L1165.7 292.9 L1165.8 285.4 L1166.4 295.2 L1167.0 294.6 L1167.6 306.5 L1167.7 293.8 L1167.7 308.8 L1168.2 303.2 L1168.8 305.3 L1169.4 300.9 L1169.7 312.6 L1169.7 295.8 L1170.0 312.1 L1170.6 308.2 L1171.2 312.8 L1171.7 311.6 L1171.7 322.6 L1171.8 316.0 L1172.4 317.2 L1173.0 325.1 L1173.6 322.7 L1173.6 330.6 L1173.6 311.6 L1174.2 323.1 L1174.8 310.6 L1175.4 319.2 L1175.6 326.6 L1175.6 307.6 L1176.0 315.5 L1176.6 300.3 L1177.2 298.3 L1177.6 308.8 L1177.6 291.8 L1177.8 305.0 L1178.4 300.6 L1179.0 302.3 L1179.6 310.9 L1179.6 291.8 L1179.6 314.6 L1180.2 291.4 L1180.8 293.4 L1181.4 285.0 L1181.5 277.9 L1181.5 292.9 L1182.0 279.6 L1182.6 283.3 L1183.2 279.6 L1183.5 276.1 L1183.5 283.1 L1183.8 274.8 L1184.4 279.5 L1185.0 267.0 L1185.5 281.1 L1185.5 262.1 L1185.6 273.6 L1186.2 261.8 L1186.8 267.4 L1187.4 244.4 L1187.5 269.2 L1187.5 242.5 L1188.0 251.4" class="ser"/>
<text class="nt" y="483"><tspan x="18" letter-spacing="2">注：上图中数据经过滚动</tspan><tspan class="lat" x="287">5</tspan><tspan x="305" letter-spacing="2">年的标准化处理，下同</tspan></text>
<text class="nt" y="521"><tspan x="18" letter-spacing="2">数据来源：</tspan><tspan class="lat" x="138.5">Wind</tspan><tspan x="189" letter-spacing="2">，</tspan><tspan x="209.5" letter-spacing="2">东吴证券研究所</tspan></text>
<text class="nt" y="502"><tspan x="642.5" letter-spacing="2">数据来源：</tspan><tspan class="lat" x="763">Wind</tspan><tspan x="813.5" letter-spacing="2">，</tspan><tspan x="834" letter-spacing="2">东吴证券研究所</tspan></text>
</svg>
</body></html>
